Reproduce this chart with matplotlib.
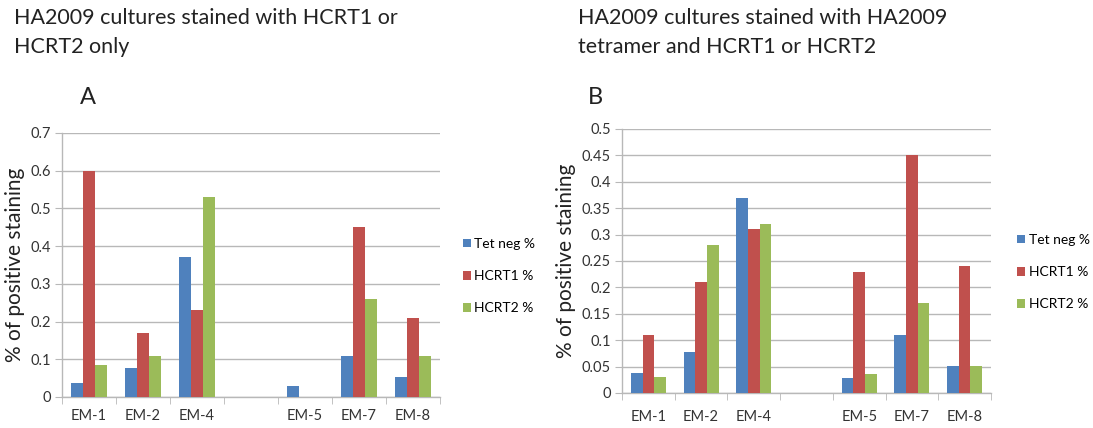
#!/usr/bin/env python3
"""HA2009 cultures: % positive staining, panels A and B (Excel-style bars)."""
import matplotlib
matplotlib.use("Agg")
import matplotlib.pyplot as plt
import numpy as np

plt.rcParams["font.family"] = ["Lato", "DejaVu Sans"]

categories = ["EM-1", "EM-2", "EM-4", "", "EM-5", "EM-7", "EM-8"]
series = ["Tet neg %", "HCRT1 %", "HCRT2 %"]
colors = ["#4F81BD", "#C0504D", "#9BBB59"]

# panel A: HCRT1 or HCRT2 only (nan = empty slot)
a_tet = [0.037, 0.077, 0.37, np.nan, 0.029, 0.11, 0.052]
a_hcrt1 = [0.60, 0.17, 0.23, np.nan, np.nan, 0.45, 0.21]
a_hcrt2 = [0.085, 0.11, 0.53, np.nan, np.nan, 0.26, 0.11]

# panel B: HA2009 tetramer and HCRT1 or HCRT2
b_tet = [0.037, 0.077, 0.37, np.nan, 0.029, 0.11, 0.052]
b_hcrt1 = [0.11, 0.21, 0.31, np.nan, 0.23, 0.45, 0.24]
b_hcrt2 = [0.03, 0.28, 0.32, np.nan, 0.036, 0.17, 0.052]

W, H = 1093, 428


def px_axes(fig, left, top, right, bottom):
    return fig.add_axes([left / W, 1 - bottom / H, (right - left) / W, (bottom - top) / H])


def draw_panel(ax, vals, ymax, ystep, ylabels, legend_xy, xpad):
    x = np.arange(len(categories))
    bw = 0.222
    for i, (v, c, name) in enumerate(zip(vals, colors, series)):
        ax.bar(x + (i - 1) * bw, v, width=bw, color=c, label=name, zorder=3)
    ax.set_xlim(-0.5, len(categories) - 0.5)
    ax.set_ylim(0, ymax)
    ticks = np.arange(0, ymax + ystep / 2, ystep)
    ax.set_yticks(ticks)
    ax.set_yticklabels(ylabels, fontsize=10.5, color="#333333")
    ax.yaxis.grid(True, color="#b8b8b8", linewidth=1.0, zorder=0)
    ax.set_axisbelow(True)
    for s in ["top", "right"]:
        ax.spines[s].set_visible(False)
    for s in ["left", "bottom"]:
        ax.spines[s].set_color("#b8b8b8")
        ax.spines[s].set_linewidth(1.0)
    ax.tick_params(axis="y", length=5, color="#b8b8b8", pad=3)
    # category labels centred, ticks at slot boundaries
    ax.set_xticks(x)
    ax.set_xticklabels(categories, fontsize=10.5, color="#333333")
    ax.tick_params(axis="x", length=0, pad=xpad)
    ax.set_xticks(np.arange(-0.5, len(categories) + 0.5, 1), minor=True)
    ax.tick_params(axis="x", which="minor", length=5, color="#b8b8b8", direction="out")
    ax.set_ylabel("% of positive staining", fontsize=15, color="#222222", labelpad=4)
    ax.legend(loc="center left", bbox_to_anchor=legend_xy, frameon=False,
              fontsize=10, handlelength=0.6, handleheight=0.6,
              handletextpad=0.25, labelspacing=1.45, borderaxespad=0,
              borderpad=0)


fig = plt.figure(figsize=(W / 100, H / 100), dpi=100)

ax_a = px_axes(fig, 62, 133, 440, 397)
draw_panel(ax_a, [a_tet, a_hcrt1, a_hcrt2], 0.7, 0.1,
           ["0", "0.1", "0.2", "0.3", "0.4", "0.5", "0.6", "0.7"], (1.06, 0.458), 9)

ax_b = px_axes(fig, 622, 129, 991, 393)
draw_panel(ax_b, [b_tet, b_hcrt1, b_hcrt2], 0.5, 0.05,
           ["0", "0.05", "0.1", "0.15", "0.2", "0.25", "0.3", "0.35", "0.4", "0.45", "0.5"],
           (1.07, 0.458), 12)

fig.text(14 / W, 1 - 8 / H, "HA2009 cultures stained with HCRT1 or\nHCRT2 only",
         fontsize=15.5, color="#222222", va="top", ha="left", linespacing=1.55)
fig.text(578 / W, 1 - 8 / H, "HA2009 cultures stained with HA2009\ntetramer and HCRT1 or HCRT2",
         fontsize=15.5, color="#222222", va="top", ha="left", linespacing=1.55)
fig.text(80 / W, 1 - 97 / H, "A", fontsize=17, color="#222222", va="center", ha="left")
fig.text(588 / W, 1 - 97 / H, "B", fontsize=17, color="#222222", va="center", ha="left")

fig.savefig("out.png", dpi=100)
